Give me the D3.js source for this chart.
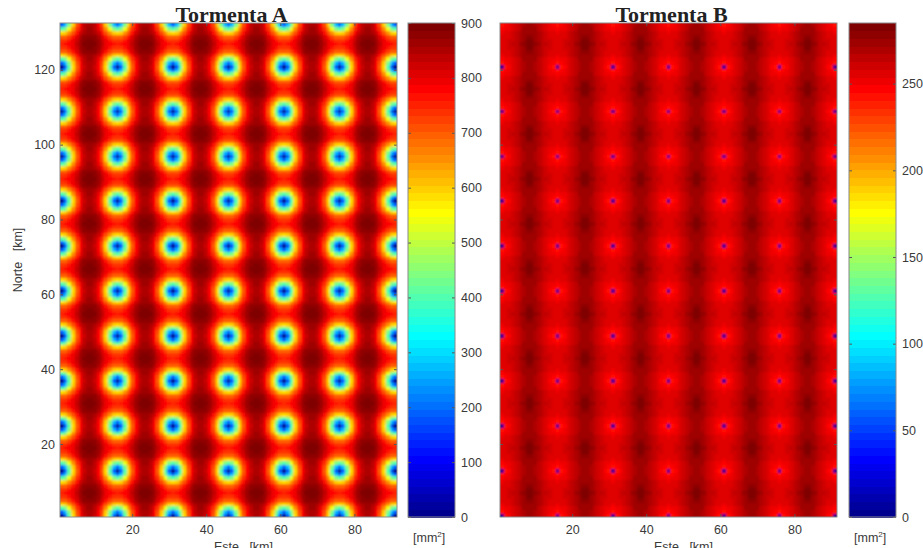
<!DOCTYPE html>
<html>
<head>
<meta charset="utf-8">
<script src="https://cdn.jsdelivr.net/npm/d3@7"></script>
<style>
  body { margin: 0; background: #fff; }
  svg { display: block; }
  .axis text, .cb-axis text { font-family: "Liberation Sans", Arial, sans-serif; font-size: 12.5px; fill: #3a3a3a; }
  .axis line, .cb-axis line { stroke: #555; }
  .axis path, .cb-axis path { display: none; }
  .title { font-family: "Liberation Serif", "Times New Roman", serif; font-weight: bold; font-size: 22px; fill: #222; }
  .label { font-family: "Liberation Sans", Arial, sans-serif; font-size: 12.5px; fill: #3a3a3a; }
</style>
</head>
<body>
<div id="chart"></div>
<script>
// rain gauge network (km), same for both storms; top row sits just outside the grid
var gaugeX = [1, 16, 31, 46, 61, 76, 91];
var gaugeY = [1, 13, 25, 37, 49, 61, 73, 85, 97, 109, 121, 133];
var nx = 91, ny = 132;

// estimation variance [mm2] vs offset to nearest gauge
// rows: north offset 0..6 km, cols: east offset 0..7 km
var varA = [
  [ 10, 190, 400, 580, 700, 780, 825, 845],
  [190, 270, 440, 600, 710, 785, 830, 850],
  [400, 440, 540, 650, 735, 800, 840, 858],
  [580, 600, 650, 710, 770, 820, 855, 870],
  [690, 700, 730, 765, 805, 845, 872, 882],
  [740, 745, 765, 790, 825, 860, 882, 892],
  [755, 760, 778, 800, 835, 868, 888, 898]
];
var varB = [
  [  0, 244, 249, 254, 260, 266, 271, 274],
  [244, 246, 250, 255, 261, 266, 271, 274],
  [249, 250, 252, 257, 262, 267, 272, 275],
  [253, 254, 256, 259, 263, 268, 273, 276],
  [256, 256, 258, 261, 265, 270, 274, 278],
  [257, 258, 259, 262, 266, 271, 276, 281],
  [258, 258, 260, 263, 267, 272, 278, 285]
];

var titles = ["Tormenta A", "Tormenta B"];
var climA = [0, 900], climB = [0, 285];
var xTicks = [20, 40, 60, 80];
var yTicks = [20, 40, 60, 80, 100, 120];
var cbTicksA = [0, 100, 200, 300, 400, 500, 600, 700, 800, 900];
var cbTicksB = [0, 50, 100, 150, 200, 250];

var W = 923, H = 548;
var plotTop = 23, plotBottom = 517;

// matlab jet(64)
function jet(n) {
  var m = Math.ceil(n / 4), u = [], i;
  for (i = 1; i <= m; i++) u.push(i / m);
  for (i = 1; i < m; i++) u.push(1);
  for (i = m; i >= 1; i--) u.push(i / m);
  var J = d3.range(n).map(function() { return [0, 0, 0]; });
  var g0 = Math.ceil(m / 2) - (n % 4 === 1 ? 1 : 0);
  u.forEach(function(val, k) {
    var g = g0 + k + 1, r = g + m;
    if (g <= n) J[g - 1][1] = val;
    if (r <= n) J[r - 1][0] = val;
  });
  var bs = u.map(function(_, k) { return g0 + k + 1 - m; }).filter(function(b) { return b >= 1; });
  bs.forEach(function(b, k) { J[b - 1][2] = u[u.length - bs.length + k]; });
  return J.map(function(c) { return d3.rgb(c[0] * 255, c[1] * 255, c[2] * 255).formatHex(); });
}
var jet64 = jet(64);

function nearest(v, list) {
  return d3.min(list, function(g) { return Math.abs(v - g); });
}

function buildField(table) {
  var cells = [];
  for (var yy = 1; yy <= ny; yy++) {
    var dy = nearest(yy, gaugeY);
    for (var xx = 1; xx <= nx; xx++) {
      cells.push({x: xx, y: yy, v: table[dy][nearest(xx, gaugeX)]});
    }
  }
  return cells;
}

var svg = d3.select("#chart").append("svg").attr("width", W).attr("height", H);
var defs = svg.append("defs");
defs.append("filter").attr("id", "soft")
  .attr("x", "-2%").attr("y", "-2%").attr("width", "104%").attr("height", "104%")
  .append("feGaussianBlur").attr("stdDeviation", 0.85);

function panel(p, k) {
  var x = d3.scaleLinear().domain([0.5, nx + 0.5]).range([p.left, p.right]);
  var y = d3.scaleLinear().domain([0.5, ny + 0.5]).range([plotBottom, plotTop]);
  var color = d3.scaleQuantize().domain(p.clim).range(jet64);
  var pad = 5; // edge cells reach past the frame so the blur keeps full colour

  defs.append("clipPath").attr("id", "clip" + k)
    .append("rect").attr("x", p.left).attr("y", plotTop)
    .attr("width", p.right - p.left).attr("height", plotBottom - plotTop);

  var g = svg.append("g");
  g.append("g").attr("clip-path", "url(#clip" + k + ")")
    .append("g").attr("filter", "url(#soft)").attr("shape-rendering", "crispEdges")
    .selectAll("rect").data(buildField(p.table)).enter().append("rect")
    .attr("x", function(d) { return x(d.x - 0.5) - (d.x === 1 ? pad : 0); })
    .attr("y", function(d) { return y(d.y + 0.5) - (d.y === ny ? pad : 0); })
    .attr("width", function(d) {
      return x(1.5) - x(0.5) + 0.6 + (d.x === 1 || d.x === nx ? pad : 0);
    })
    .attr("height", function(d) {
      return y(0.5) - y(1.5) + 0.6 + (d.y === 1 || d.y === ny ? pad : 0);
    })
    .attr("fill", function(d) { return color(d.v); });

  g.append("g").attr("class", "axis")
    .attr("transform", "translate(0," + plotBottom + ")")
    .call(d3.axisBottom(x).tickValues(xTicks).tickSize(-3).tickPadding(8));
  g.append("g").attr("class", "axis")
    .attr("transform", "translate(0," + plotTop + ")")
    .call(d3.axisTop(x).tickValues(xTicks).tickSize(-3).tickFormat(""));
  g.append("g").attr("class", "axis")
    .attr("transform", "translate(" + p.left + ",0)")
    .call(d3.axisLeft(y).tickValues(yTicks).tickSize(-3).tickPadding(5)
      .tickFormat(p.yLabels ? d3.format("d") : ""));
  g.append("g").attr("class", "axis")
    .attr("transform", "translate(" + p.right + ",0)")
    .call(d3.axisRight(y).tickValues(yTicks).tickSize(-3).tickFormat(""));

  g.append("rect")
    .attr("x", p.left).attr("y", plotTop)
    .attr("width", p.right - p.left).attr("height", plotBottom - plotTop)
    .attr("fill", "none").attr("stroke", "#8a8a8a").attr("stroke-width", 1);

  g.append("text").attr("class", "title")
    .attr("x", (p.left + p.right) / 2 + 3).attr("y", 22)
    .attr("text-anchor", "middle").text(p.title);

  g.append("text").attr("class", "label")
    .attr("x", (p.left + p.right) / 2 + 15).attr("y", 551)
    .attr("text-anchor", "middle").attr("xml:space", "preserve").text("Este   [km]");

  // colorbar
  var cy = d3.scaleLinear().domain(p.clim).range([plotBottom, plotTop]);
  var step = (p.clim[1] - p.clim[0]) / jet64.length;
  var cb = svg.append("g");
  cb.append("g").attr("shape-rendering", "crispEdges")
    .selectAll("rect").data(jet64).enter().append("rect")
    .attr("x", p.cbLeft)
    .attr("y", function(c, i) { return cy(p.clim[0] + (i + 1) * step); })
    .attr("width", p.cbRight - p.cbLeft)
    .attr("height", cy(0) - cy(step) + 0.6)
    .attr("fill", function(c) { return c; });
  cb.append("g").attr("class", "cb-axis")
    .attr("transform", "translate(" + p.cbRight + ",0)")
    .call(d3.axisRight(cy).tickValues(p.cbTicks).tickSize(-3).tickPadding(6));
  cb.append("g").attr("class", "cb-axis")
    .attr("transform", "translate(" + p.cbLeft + ",0)")
    .call(d3.axisLeft(cy).tickValues(p.cbTicks).tickSize(-3).tickFormat(""));
  cb.append("rect")
    .attr("x", p.cbLeft).attr("y", plotTop)
    .attr("width", p.cbRight - p.cbLeft).attr("height", plotBottom - plotTop)
    .attr("fill", "none").attr("stroke", "#8a8a8a");
  var unit = cb.append("text").attr("class", "label")
    .attr("x", p.cbLeft + 5).attr("y", 542);
  unit.append("tspan").text("[mm");
  unit.append("tspan").attr("dy", -5).attr("font-size", "8px").text("2");
  unit.append("tspan").attr("dy", 5).text("]");
}

panel({left: 60, right: 397, cbLeft: 408, cbRight: 455, table: varA, clim: climA,
  cbTicks: cbTicksA, title: titles[0], yLabels: true}, 0);
panel({left: 500, right: 837, cbLeft: 849, cbRight: 896, table: varB, clim: climB,
  cbTicks: cbTicksB, title: titles[1], yLabels: false}, 1);

svg.append("text").attr("class", "label")
  .attr("transform", "translate(22,260) rotate(-90)")
  .attr("text-anchor", "middle").attr("xml:space", "preserve").text("Norte   [km]");
</script>
</body>
</html>
